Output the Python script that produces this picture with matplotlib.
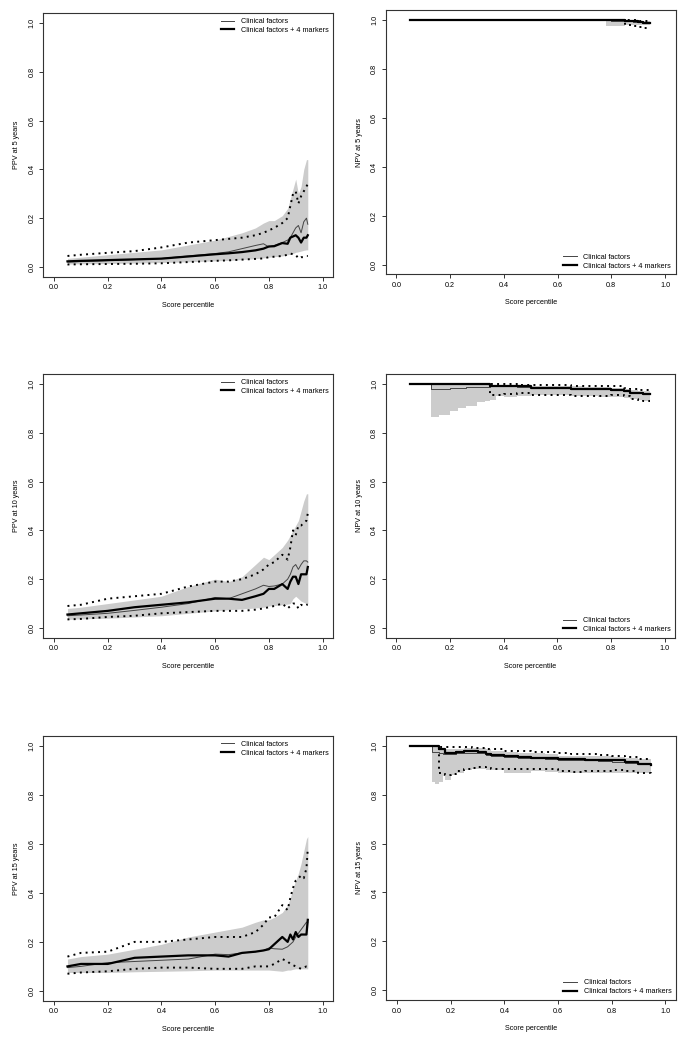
import matplotlib
matplotlib.use('Agg')
import matplotlib.pyplot as plt
import numpy as np

plt.rcParams['font.family'] = ['Liberation Sans', 'DejaVu Sans']

# PPV panels share one x grid
x_ppv = [0.05, 0.1, 0.2, 0.3, 0.4, 0.5, 0.6, 0.65, 0.7, 0.75, 0.78, 0.8,
         0.82, 0.85, 0.87, 0.88, 0.89, 0.9, 0.91, 0.92, 0.93, 0.94, 0.945]

# PPV at 5 years
ppv5_mk = [0.023, 0.025, 0.028, 0.031, 0.034, 0.043, 0.052, 0.056, 0.061, 0.068, 0.075, 0.084,
           0.085, 0.098, 0.095, 0.12, 0.125, 0.13, 0.12, 0.10, 0.12, 0.12, 0.13]
ppv5_cf = [0.02, 0.022, 0.026, 0.03, 0.035, 0.045, 0.055, 0.062, 0.075, 0.088, 0.095, 0.082,
           0.088, 0.10, 0.11, 0.12, 0.14, 0.16, 0.17, 0.14, 0.185, 0.20, 0.175]
ppv5_cf_hi = [0.035, 0.04, 0.05, 0.06, 0.07, 0.09, 0.11, 0.125, 0.14, 0.16, 0.18, 0.19,
              0.19, 0.21, 0.24, 0.28, 0.32, 0.36, 0.30, 0.33, 0.40, 0.44, 0.44]
ppv5_cf_lo = [0.012, 0.013, 0.014, 0.016, 0.018, 0.021, 0.025, 0.027, 0.03, 0.034, 0.037, 0.04,
              0.042, 0.045, 0.05, 0.052, 0.055, 0.06, 0.062, 0.065, 0.068, 0.07, 0.07]
ppv5_mk_hi = [0.045, 0.05, 0.058, 0.065, 0.08, 0.10, 0.11, 0.115, 0.12, 0.13, 0.14, 0.15,
              0.16, 0.18, 0.20, 0.25, 0.30, 0.31, 0.26, 0.29, 0.31, 0.33, 0.34]
ppv5_mk_lo = [0.01, 0.011, 0.012, 0.013, 0.015, 0.02, 0.025, 0.027, 0.03, 0.033, 0.035, 0.04,
              0.042, 0.045, 0.05, 0.055, 0.052, 0.05, 0.035, 0.04, 0.04, 0.045, 0.045]

# PPV at 10 years
ppv10_mk = [0.055, 0.06, 0.07, 0.085, 0.095, 0.105, 0.12, 0.12, 0.115, 0.13, 0.14, 0.16,
            0.16, 0.18, 0.16, 0.19, 0.21, 0.21, 0.18, 0.22, 0.22, 0.22, 0.25]
ppv10_cf = [0.05, 0.053, 0.06, 0.072, 0.085, 0.10, 0.125, 0.12, 0.14, 0.16, 0.175, 0.17,
            0.172, 0.18, 0.20, 0.22, 0.25, 0.26, 0.24, 0.26, 0.275, 0.275, 0.27]
ppv10_cf_hi = [0.08, 0.085, 0.10, 0.115, 0.13, 0.17, 0.20, 0.19, 0.21, 0.26, 0.29, 0.28,
               0.30, 0.33, 0.36, 0.38, 0.40, 0.42, 0.44, 0.48, 0.52, 0.55, 0.55]
ppv10_cf_lo = [0.035, 0.037, 0.04, 0.045, 0.05, 0.06, 0.07, 0.075, 0.078, 0.082, 0.085, 0.09,
               0.092, 0.095, 0.098, 0.10, 0.12, 0.13, 0.12, 0.11, 0.105, 0.10, 0.10]
ppv10_mk_hi = [0.09, 0.095, 0.12, 0.13, 0.14, 0.17, 0.19, 0.19, 0.20, 0.22, 0.24, 0.26,
               0.27, 0.30, 0.28, 0.33, 0.40, 0.38, 0.42, 0.42, 0.43, 0.44, 0.47]
ppv10_mk_lo = [0.035, 0.037, 0.045, 0.05, 0.06, 0.065, 0.07, 0.07, 0.07, 0.075, 0.08, 0.085,
               0.09, 0.10, 0.08, 0.09, 0.10, 0.10, 0.08, 0.095, 0.09, 0.095, 0.095]

# PPV at 15 years
ppv15_mk = [0.10, 0.11, 0.11, 0.135, 0.14, 0.145, 0.145, 0.14, 0.155, 0.16, 0.165, 0.17,
            0.19, 0.22, 0.20, 0.23, 0.21, 0.24, 0.22, 0.23, 0.23, 0.23, 0.29]
ppv15_cf = [0.095, 0.10, 0.115, 0.12, 0.125, 0.13, 0.15, 0.148, 0.155, 0.16, 0.165, 0.175,
            0.172, 0.17, 0.18, 0.19, 0.20, 0.22, 0.235, 0.25, 0.265, 0.28, 0.28]
ppv15_cf_hi = [0.13, 0.14, 0.15, 0.17, 0.19, 0.22, 0.24, 0.25, 0.26, 0.28, 0.29, 0.29,
               0.30, 0.32, 0.35, 0.38, 0.42, 0.45, 0.48, 0.52, 0.57, 0.62, 0.63]
ppv15_cf_lo = [0.075, 0.075, 0.075, 0.078, 0.08, 0.082, 0.085, 0.085, 0.085, 0.085, 0.085, 0.085,
               0.083, 0.08, 0.085, 0.085, 0.088, 0.09, 0.09, 0.09, 0.09, 0.09, 0.09]
ppv15_mk_hi = [0.14, 0.155, 0.16, 0.20, 0.20, 0.21, 0.22, 0.22, 0.22, 0.24, 0.27, 0.30,
               0.30, 0.35, 0.33, 0.38, 0.42, 0.45, 0.46, 0.47, 0.46, 0.50, 0.58]
ppv15_mk_lo = [0.07, 0.075, 0.08, 0.09, 0.095, 0.095, 0.09, 0.09, 0.09, 0.10, 0.10, 0.10,
               0.11, 0.13, 0.12, 0.11, 0.105, 0.10, 0.095, 0.09, 0.095, 0.10, 0.10]

# NPV at 5 years
x_npv5 = [0.05, 0.78, 0.8, 0.85, 0.88, 0.9, 0.92, 0.945]
npv5_mk = [1, 1, 1, 0.997, 0.995, 0.99, 0.987, 0.985]
npv5_cf = [1, 0.998, 0.997, 0.995, 0.993, 0.99, 0.988, 0.986]
npv5_cf_hi = [1, 1, 1, 1, 0.998, 0.997, 0.995, 0.993]
npv5_cf_lo = [1, 0.975, 0.975, 0.978, 0.978, 0.978, 0.978, 0.978]
npv5_mk_hi = [1, 1, 1, 1, 0.998, 0.996, 0.994, 0.992]
npv5_mk_lo = [1, 1, 1, 0.98, 0.975, 0.97, 0.968, 0.965]

# NPV at 10 years
x_npv10 = [0.05, 0.13, 0.16, 0.2, 0.23, 0.26, 0.3, 0.33, 0.35, 0.37, 0.4, 0.45,
           0.5, 0.55, 0.6, 0.65, 0.7, 0.75, 0.8, 0.85, 0.87, 0.9, 0.92, 0.945]
npv10_mk = [1, 1, 1, 1, 1, 1, 1, 1, 0.99, 0.99, 0.99, 0.99,
            0.985, 0.985, 0.985, 0.98, 0.98, 0.98, 0.975, 0.972, 0.965, 0.962, 0.96, 0.96]
npv10_cf = [1, 0.98, 0.981, 0.983, 0.984, 0.986, 0.987, 0.989, 0.99, 0.99, 0.99, 0.988,
            0.985, 0.985, 0.984, 0.982, 0.98, 0.978, 0.977, 0.972, 0.968, 0.965, 0.963, 0.962]
npv10_cf_hi = [1, 1, 1, 1, 1, 1, 1, 1, 0.997, 0.997, 0.996, 0.995,
               0.993, 0.993, 0.992, 0.99, 0.988, 0.987, 0.985, 0.98, 0.975, 0.972, 0.971, 0.97]
npv10_cf_lo = [1, 0.865, 0.875, 0.89, 0.9, 0.91, 0.925, 0.93, 0.935, 0.95, 0.945, 0.95,
               0.955, 0.955, 0.955, 0.953, 0.95, 0.948, 0.945, 0.943, 0.94, 0.935, 0.932, 0.93]
npv10_mk_hi = [1, 1, 1, 1, 1, 1, 1, 1, 1, 1, 1, 0.998,
               0.995, 0.995, 0.995, 0.993, 0.99, 0.99, 0.99, 0.985, 0.98, 0.977, 0.976, 0.975]
npv10_mk_lo = [1, 1, 1, 1, 1, 1, 1, 1, 0.955, 0.955, 0.96, 0.965,
               0.955, 0.955, 0.955, 0.952, 0.95, 0.953, 0.955, 0.95, 0.94, 0.935, 0.932, 0.93]

# NPV at 15 years
x_npv15 = [0.05, 0.13, 0.14, 0.155, 0.17, 0.18, 0.2, 0.22, 0.25, 0.28, 0.3, 0.33, 0.35,
           0.4, 0.45, 0.5, 0.55, 0.6, 0.65, 0.7, 0.75, 0.8, 0.85, 0.9, 0.945]
npv15_mk = [1, 1, 1, 0.985, 0.985, 0.97, 0.972, 0.975, 0.977, 0.978, 0.975, 0.965, 0.962,
            0.957, 0.955, 0.95, 0.95, 0.945, 0.945, 0.94, 0.94, 0.942, 0.935, 0.925, 0.92]
npv15_cf = [1, 0.975, 0.975, 0.97, 0.967, 0.965, 0.968, 0.97, 0.971, 0.971, 0.97, 0.962, 0.96,
            0.955, 0.95, 0.948, 0.946, 0.943, 0.942, 0.94, 0.936, 0.932, 0.928, 0.924, 0.92]
npv15_cf_hi = [1, 1, 1, 0.99, 0.988, 0.985, 0.985, 0.988, 0.99, 0.99, 0.99, 0.985, 0.98,
               0.975, 0.972, 0.97, 0.965, 0.96, 0.96, 0.958, 0.957, 0.955, 0.95, 0.945, 0.94]
npv15_cf_lo = [1, 0.85, 0.845, 0.85, 0.875, 0.86, 0.88, 0.89, 0.9, 0.905, 0.905, 0.9, 0.9,
               0.89, 0.89, 0.895, 0.893, 0.89, 0.89, 0.89, 0.89, 0.89, 0.89, 0.89, 0.885]
npv15_mk_hi = [1, 1, 1, 0.995, 0.995, 0.995, 0.995, 0.995, 0.993, 0.992, 0.99, 0.988, 0.985,
               0.98, 0.978, 0.975, 0.975, 0.97, 0.968, 0.965, 0.963, 0.96, 0.955, 0.945, 0.94]
npv15_mk_lo = [1, 1, 1, 0.89, 0.89, 0.88, 0.885, 0.895, 0.905, 0.91, 0.915, 0.91, 0.905,
               0.905, 0.905, 0.905, 0.905, 0.895, 0.893, 0.895, 0.897, 0.9, 0.895, 0.89, 0.88]

ticks = [0.0, 0.2, 0.4, 0.6, 0.8, 1.0]
tick_labels = ['0.0', '0.2', '0.4', '0.6', '0.8', '1.0']
legend_labels = ['Clinical factors', 'Clinical factors + 4 markers']

W, H = 689, 1044
FS = 5.2
fig = plt.figure(figsize=(W / 100, H / 100), dpi=100)


def make_axes(left, right, top, bottom):
    return fig.add_axes([left / W, 1 - bottom / H, (right - left) / W, (bottom - top) / H])


def panel(ax, x, cf, cf_lo, cf_hi, mk, mk_lo, mk_hi, ylabel, steps, legend_loc):
    ds = 'steps-post' if steps else 'default'
    ax.fill_between(x, cf_lo, cf_hi, color='#cccccc', lw=0, step='post' if steps else None)
    ax.plot(x, mk_hi, color='black', lw=1.4, ls=(0, (1, 2.2)), drawstyle=ds)
    ax.plot(x, mk_lo, color='black', lw=1.4, ls=(0, (1, 2.2)), drawstyle=ds)
    l1, = ax.plot(x, cf, color='#444444', lw=0.7, drawstyle=ds)
    l2, = ax.plot(x, mk, color='black', lw=1.6, drawstyle=ds)
    ax.set_xlim(-0.04, 1.04)
    ax.set_ylim(-0.04, 1.04)
    ax.set_xticks(ticks)
    ax.set_xticklabels(tick_labels, fontsize=FS)
    ax.set_yticks(ticks)
    ax.set_yticklabels(tick_labels, fontsize=FS, rotation=90, va='center')
    ax.tick_params(direction='out', length=3, width=0.7, color='#333333', pad=2.5)
    for s in ax.spines.values():
        s.set_color('#333333')
        s.set_linewidth(0.8)
    ax.set_xlabel('Score percentile', fontsize=FS, labelpad=7.5)
    ax.set_ylabel(ylabel, fontsize=FS, labelpad=6)
    ax.legend([l1, l2], legend_labels, loc=legend_loc, frameon=False, fontsize=FS,
              handlelength=1.9, handletextpad=0.9, labelspacing=0.25, borderaxespad=0.25)


ax1 = make_axes(43.3, 333.3, 13.3, 276.7)
panel(ax1, x_ppv, ppv5_cf, ppv5_cf_lo, ppv5_cf_hi, ppv5_mk, ppv5_mk_lo, ppv5_mk_hi,
      'PPV at 5 years', False, 'upper right')
ax2 = make_axes(385.7, 675.7, 10, 274.3)
panel(ax2, x_npv5, npv5_cf, npv5_cf_lo, npv5_cf_hi, npv5_mk, npv5_mk_lo, npv5_mk_hi,
      'NPV at 5 years', True, 'lower right')
ax3 = make_axes(43.3, 333.3, 374.3, 637.7)
panel(ax3, x_ppv, ppv10_cf, ppv10_cf_lo, ppv10_cf_hi, ppv10_mk, ppv10_mk_lo, ppv10_mk_hi,
      'PPV at 10 years', False, 'upper right')
ax4 = make_axes(385.7, 675.3, 374.3, 637.7)
panel(ax4, x_npv10, npv10_cf, npv10_cf_lo, npv10_cf_hi, npv10_mk, npv10_mk_lo, npv10_mk_hi,
      'NPV at 10 years', True, 'lower right')
ax5 = make_axes(43.3, 333.3, 736, 1000.7)
panel(ax5, x_ppv, ppv15_cf, ppv15_cf_lo, ppv15_cf_hi, ppv15_mk, ppv15_mk_lo, ppv15_mk_hi,
      'PPV at 15 years', False, 'upper right')
ax6 = make_axes(386.3, 676, 736, 1000)
panel(ax6, x_npv15, npv15_cf, npv15_cf_lo, npv15_cf_hi, npv15_mk, npv15_mk_lo, npv15_mk_hi,
      'NPV at 15 years', True, 'lower right')

fig.savefig('out.png', dpi=100)
